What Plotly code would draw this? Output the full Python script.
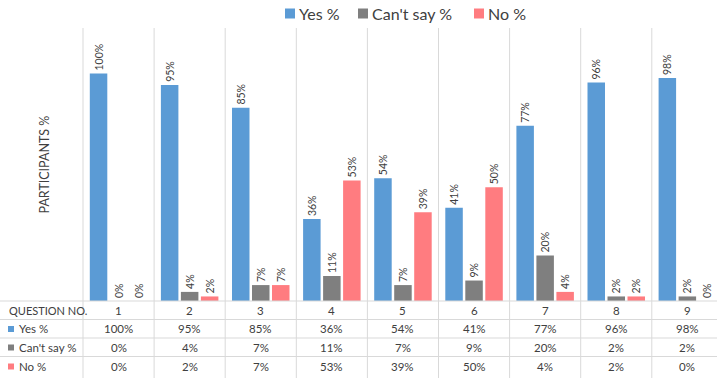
import plotly.graph_objects as go

questions = ["1", "2", "3", "4", "5", "6", "7", "8", "9"]
yes_pct = [100, 95, 85, 36, 54, 41, 77, 96, 98]
cant_say_pct = [0, 4, 7, 11, 7, 9, 20, 2, 2]
no_pct = [0, 2, 7, 53, 39, 50, 4, 2, 0]
series_names = ["Yes %", "Can't say %", "No %"]
colors = ["#5B9BD5", "#7F7F7F", "#FF7C80"]

W, H = 717, 378
ML, MR, MT, MB = 83, 0, 28, 77
plot_w = W - ML - MR
plot_h = H - MT - MB
cat_w = 71.1
x_max = -0.5 + plot_w / cat_w

FONT = "Lato"
TXT = "#404040"
GRID = "#D9D9D9"

fig = go.Figure()
all_vals = [yes_pct, cant_say_pct, no_pct]
for name, vals, col in zip(series_names, all_vals, colors):
    fig.add_trace(go.Bar(
        x=list(range(len(questions))), y=vals, name=name,
        marker=dict(color=col, line=dict(width=0)),
        text=[f"{v}%" for v in vals], textposition="outside",
        textangle=-90, cliponaxis=False, constraintext="none",
        textfont=dict(family=FONT, size=10.5, color=TXT),
    ))

def py2paper(py):
    return (H - MB - py) / plot_h

def px2paper(px):
    return (px - ML) / plot_w

shapes = []
# vertical grid lines at category boundaries (extend through table)
shapes.append(dict(type="line", xref="paper", yref="paper", x0=0, x1=0,
                   y0=py2paper(H + 2), y1=1, line=dict(color=GRID, width=1)))
for k in range(1, len(questions) + 1):
    shapes.append(dict(type="line", xref="x", yref="paper", x0=k - 0.5, x1=k - 0.5,
                       y0=py2paper(H + 2), y1=1, line=dict(color=GRID, width=1)))
# horizontal table lines
for py in [301, 319.5, 338, 356.5]:
    shapes.append(dict(type="line", xref="paper", yref="paper",
                       x0=px2paper(0), x1=1, y0=py2paper(py), y1=py2paper(py),
                       line=dict(color=GRID, width=1)))

annotations = []
row_centers = [310, 328.5, 347, 366]
# row labels
annotations.append(dict(xref="paper", yref="paper", x=px2paper(7), y=py2paper(row_centers[0]),
                        text="QUESTION NO.", showarrow=False, xanchor="left", yanchor="middle",
                        font=dict(family=FONT, size=11, color=TXT)))
for i, (name, col) in enumerate(zip(series_names, colors)):
    yc = row_centers[i + 1]
    shapes.append(dict(type="rect", xref="paper", yref="paper",
                       x0=px2paper(8), x1=px2paper(14), y0=py2paper(yc + 3.5), y1=py2paper(yc - 2.5),
                       fillcolor=col, line=dict(width=0)))
    annotations.append(dict(xref="paper", yref="paper", x=px2paper(17), y=py2paper(yc),
                            text=name, showarrow=False,
                            xanchor="left", yanchor="middle",
                            font=dict(family=FONT, size=11.5, color=TXT)))
# table cells
for j, q in enumerate(questions):
    annotations.append(dict(xref="x", yref="paper", x=j, y=py2paper(row_centers[0]), text=q,
                            showarrow=False, xanchor="center", yanchor="middle",
                            font=dict(family=FONT, size=11.5, color=TXT)))
    for i, vals in enumerate(all_vals):
        annotations.append(dict(xref="x", yref="paper", x=j, y=py2paper(row_centers[i + 1]),
                                text=f"{vals[j]}%", showarrow=False, xanchor="center", yanchor="middle",
                                font=dict(family=FONT, size=11.5, color=TXT)))
# custom legend
legend_sq_x = [285, 358, 474]
for name, col, sx in zip(series_names, colors, legend_sq_x):
    shapes.append(dict(type="rect", xref="paper", yref="paper",
                       x0=px2paper(sx), x1=px2paper(sx + 10), y0=py2paper(18.5), y1=py2paper(8.5),
                       fillcolor=col, line=dict(width=0)))
    annotations.append(dict(xref="paper", yref="paper", x=px2paper(sx + 12), y=py2paper(13.5),
                            text=name, showarrow=False, xanchor="left", yanchor="middle",
                            font=dict(family=FONT, size=16, color=TXT)))
# y axis title
annotations.append(dict(xref="paper", yref="paper", x=px2paper(44), y=0.5,
                        text="PARTICIPANTS %", textangle=-90, showarrow=False,
                        xanchor="center", yanchor="middle",
                        font=dict(family=FONT, size=12.5, color=TXT)))

fig.update_layout(
    width=W, height=H,
    margin=dict(l=ML, r=MR, t=MT, b=MB, pad=0),
    paper_bgcolor="white", plot_bgcolor="white",
    barmode="group", bargap=0.156, bargroupgap=0.125,
    showlegend=False,
    xaxis=dict(range=[-0.5, x_max], showticklabels=False, showgrid=False, zeroline=False,
               showline=False, ticks=""),
    yaxis=dict(range=[0, 120], showticklabels=False, showgrid=False, zeroline=False,
               showline=False, ticks=""),
    shapes=shapes, annotations=annotations,
    font=dict(family=FONT, color=TXT),
)

fig.write_html("out.html")
